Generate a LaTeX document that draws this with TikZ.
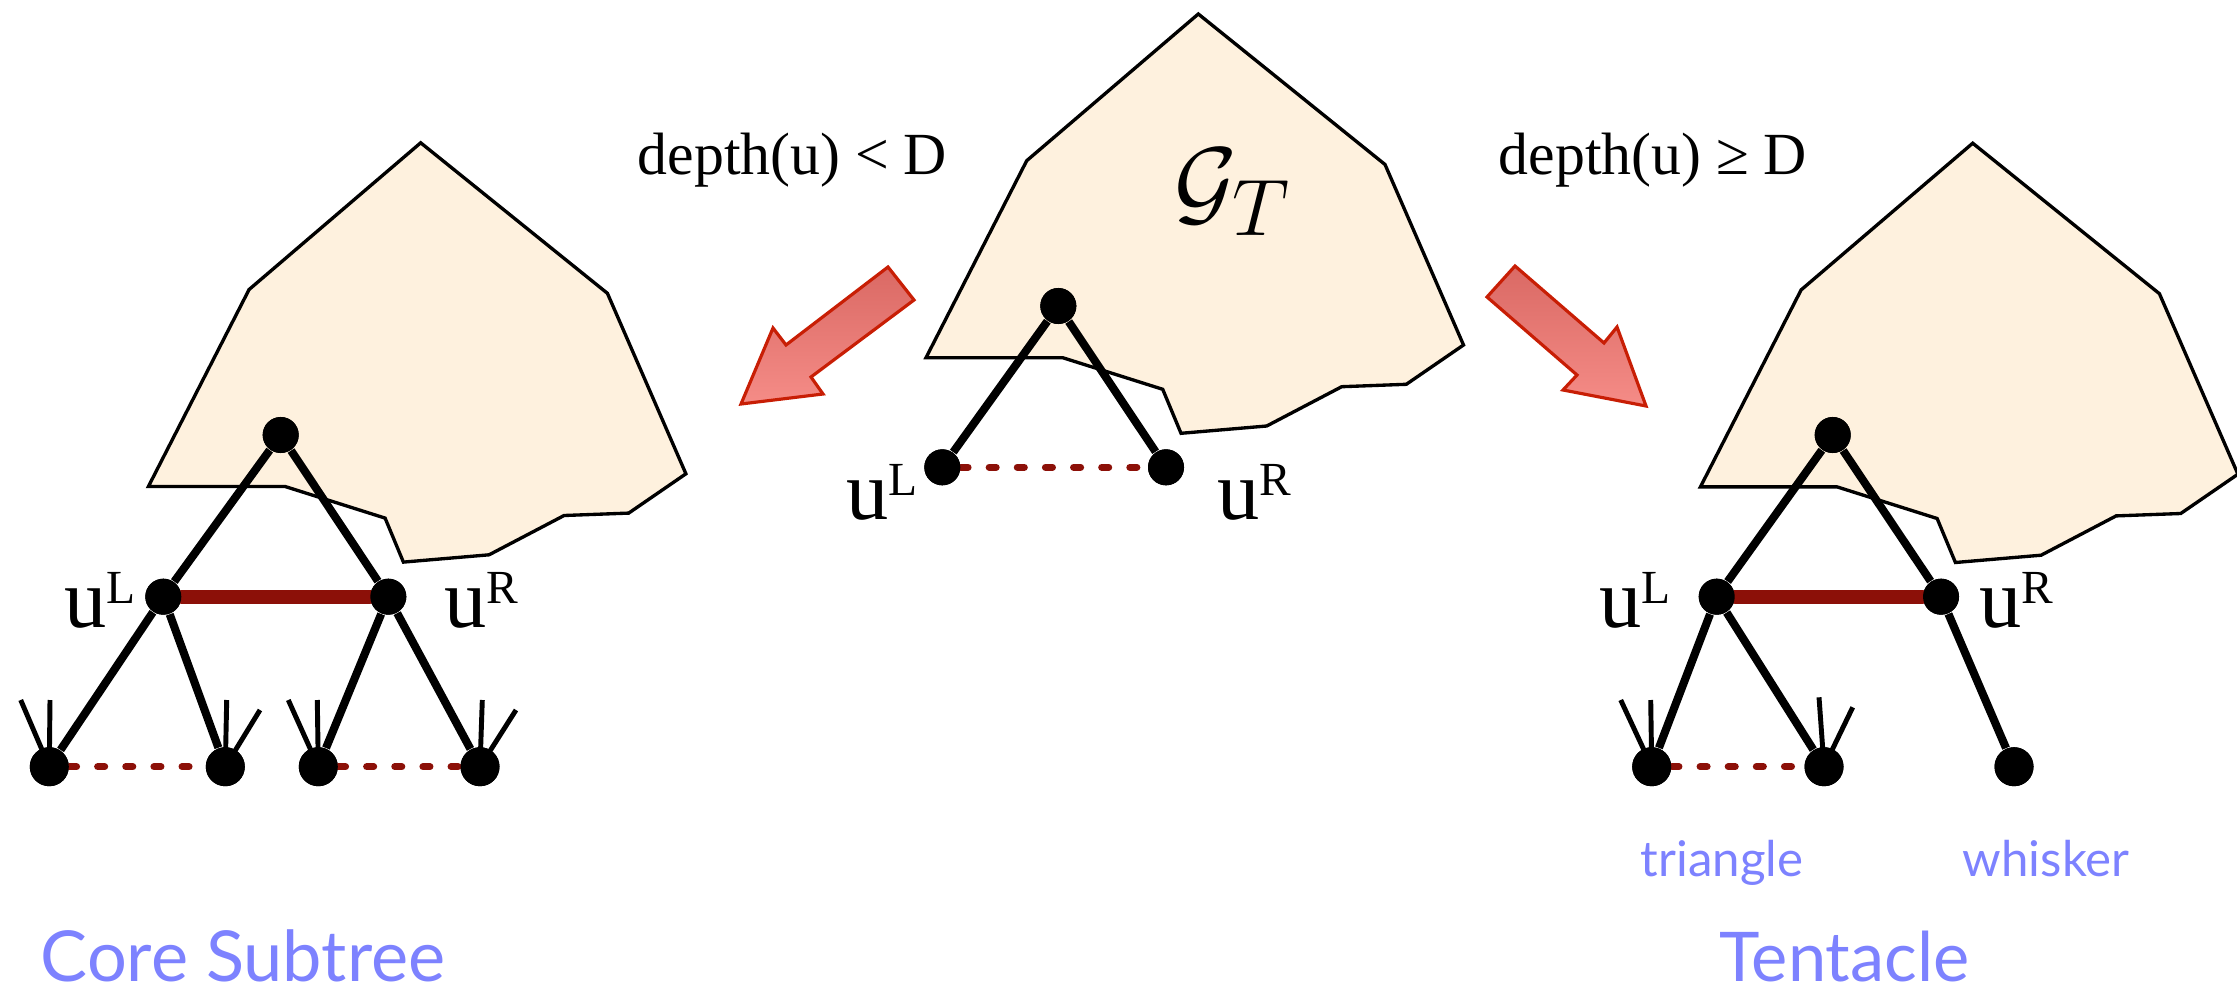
\documentclass[tikz,border=0pt]{standalone}
\usepackage{fontspec}
\setmainfont{Liberation Serif}
\newfontfamily\gillfont{Lato}
\definecolor{cream}{RGB}{254,241,222}
\definecolor{darkred}{RGB}{140,16,8}
\definecolor{arrowborder}{RGB}{200,30,5}
\definecolor{arrowdark}{RGB}{218,105,100}
\definecolor{arrowlight}{RGB}{245,140,135}
\definecolor{capblue}{RGB}{125,130,255}
\newcommand{\ulabel}[1]{{\fontsize{24}{24}\selectfont u\raisebox{6.8pt}{\fontsize{13.5}{13.5}\selectfont #1}}}
\begin{document}
\begin{tikzpicture}[x=0.01cm,y=-0.01cm,
  dot/.style={circle,fill=black,draw=none,inner sep=0pt,minimum size=0.36cm},
  bigdot/.style={circle,fill=black,draw=none,inner sep=0pt,minimum size=0.39cm},
  edgeline/.style={line width=2.3pt,black},
  whisk/.style={line width=1.4pt,black},
  redthick/.style={line width=4pt,darkred,line cap=round},
  reddash/.style={line width=2pt,darkred,dash pattern=on 2pt off 6pt,line cap=round},
  blobstyle/.style={fill=cream,draw=black,line width=0.95pt,line join=miter},
  fatarrow/.style={draw=arrowborder,line width=0.9pt,top color=arrowdark,bottom color=arrowlight},
  serifnote/.style={inner sep=0pt,anchor=base west,font=\fontsize{17}{20}\selectfont},
  ulab/.style={inner sep=0pt,anchor=base west},
  bigcap/.style={inner sep=0pt,anchor=base west,text=capblue,font=\gillfont\fontsize{19.5}{22}\selectfont},
  smallcap/.style={inner sep=0pt,anchor=base west,text=capblue,font=\gillfont\fontsize{14}{16}\selectfont},
  blob/.pic={
    \draw[blobstyle] (1198.3,14) -- (1385,164.5) -- (1463.5,345) -- (1406.3,384.3)
      -- (1341.7,386.7) -- (1266.7,426) -- (1181,433.3) -- (1162.7,389.3)
      -- (1062.7,357.7) -- (926,357.7) -- (1026.7,160.7) -- cycle;
  }
]
\useasboundingbox (0,0) rectangle (2237,991);

% blobs
\pic at (0,0) {blob};
\pic at (-777.6,128.8) {blob};
\pic at (774.4,129.2) {blob};

% arrows
\draw[fatarrow] (888,267) -- (914,300) -- (811,377) -- (823,394) -- (741,404)
  -- (773,328) -- (786,345) -- cycle;
\draw[fatarrow] (1515,266) -- (1604,343) -- (1617,327) -- (1646,406) -- (1563,390)
  -- (1577,375) -- (1487,297) -- cycle;

% texts
\node[serifnote] (condL) at (637,175) {depth(u) < D};
\node[serifnote] (condR) at (1498,175) {depth(u) ≥ D};
\node[inner sep=0pt] (GT) at (1233,192) {\scalebox{1.1}{\fontsize{24.88}{28}\selectfont $\mathcal{G}_T$}};

% ---------- center tree ----------
\node[dot] (cr) at (1058.3,306) {};
\node[dot] (cL) at (942.3,467.3) {};
\node[dot] (cR) at (1166,467.3) {};
\draw[edgeline] (cr) -- (cL);
\draw[edgeline] (cr) -- (cR);
\draw[reddash] (cL) -- (cR);
\node[dot] at (cr) {};
\node[dot] at (cL) {};
\node[dot] at (cR) {};
\node[ulab] (cLlab) at (846,519) {\ulabel{L}};
\node[ulab] (cRlab) at (1217,519) {\ulabel{R}};

% ---------- left tree (core subtree) ----------
\node[dot] (lr) at (280.7,435) {};
\node[dot] (lL) at (163.3,596.7) {};
\node[dot] (lR) at (388.3,596.7) {};
\node[bigdot] (l1) at (49.3,766.7) {};
\node[bigdot] (l2) at (225.3,766.7) {};
\node[bigdot] (l3) at (318.3,766.7) {};
\node[bigdot] (l4) at (480,766.7) {};
\coordinate (l1a) at (20.7,700); \coordinate (l1b) at (50,700);
\coordinate (l2a) at (226.7,700); \coordinate (l2b) at (260,710);
\coordinate (l3a) at (288.3,700); \coordinate (l3b) at (317.3,700);
\coordinate (l4a) at (482.3,700); \coordinate (l4b) at (516,710);
\draw[edgeline] (lr) -- (lL);
\draw[edgeline] (lr) -- (lR);
\draw[edgeline] (lL) -- (l1);
\draw[edgeline] (lL) -- (l2);
\draw[edgeline] (lR) -- (l3);
\draw[edgeline] (lR) -- (l4);
\foreach \n in {l1,l2,l3,l4} {
  \draw[whisk] (\n.center) -- (\n a);
  \draw[whisk] (\n.center) -- (\n b);
}
\draw[redthick] (lL) -- (lR);
\draw[reddash] (l1) -- (l2);
\draw[reddash] (l3) -- (l4);
\foreach \n in {lr,lL,lR} {\node[dot] at (\n) {};}
\foreach \n in {l1,l2,l3,l4} {\node[bigdot] at (\n) {};}
\node[ulab] (lLlab) at (64,627) {\ulabel{L}};
\node[ulab] (lRlab) at (444,627) {\ulabel{R}};

% ---------- right tree (tentacle) ----------
\node[dot] (rr) at (1832.7,435) {};
\node[dot] (rL) at (1716.7,596.7) {};
\node[dot] (rR) at (1941,596.7) {};
\node[bigdot] (r1) at (1651.7,766.7) {};
\node[bigdot] (r2) at (1824,766.7) {};
\node[bigdot] (r3) at (2014,766.7) {};
\coordinate (r1a) at (1620.7,700); \coordinate (r1b) at (1650.7,700);
\coordinate (r2a) at (1819,697.3); \coordinate (r2b) at (1852.7,707.3);
\draw[edgeline] (rr) -- (rL);
\draw[edgeline] (rr) -- (rR);
\draw[edgeline] (rL) -- (r1);
\draw[edgeline] (rL) -- (r2);
\draw[edgeline] (rR) -- (r3);
\foreach \n in {r1,r2} {
  \draw[whisk] (\n.center) -- (\n a);
  \draw[whisk] (\n.center) -- (\n b);
}
\draw[redthick] (rL) -- (rR);
\draw[reddash] (r1) -- (r2);
\foreach \n in {rr,rL,rR} {\node[dot] at (\n) {};}
\foreach \n in {r1,r2,r3} {\node[bigdot] at (\n) {};}
\node[ulab] (rLlab) at (1599,627) {\ulabel{L}};
\node[ulab] (rRlab) at (1979,627) {\ulabel{R}};

% ---------- captions ----------
\node[smallcap] (tri) at (1640,876) {triangle};
\node[smallcap] (whi) at (1962,876) {whisker};
\node[bigcap,font=\gillfont\fontsize{20}{22}\selectfont] (core) at (40,981) {Core Subtree};
\node[bigcap] (tent) at (1719,981) {Tentacle};
\end{tikzpicture}
\end{document}
